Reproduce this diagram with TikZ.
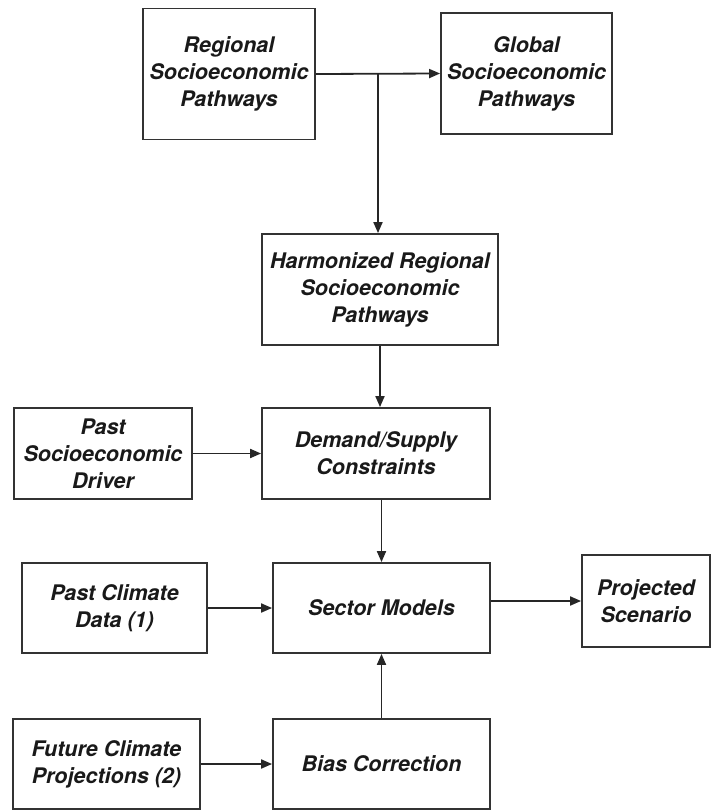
\documentclass[tikz,border=0pt]{standalone}
\usepackage{fontspec}
\setmainfont{TeX Gyre Heros}
\usetikzlibrary{arrows.meta}

\tikzset{
  box/.style={draw=black!80, line width=1.8pt, inner sep=0pt, align=center,
    font=\fontsize{21.5}{27}\selectfont\bfseries\itshape, text=black!90},
  arr/.style={draw=black!85, line width=1.8pt, -{Triangle[length=11pt,width=9pt]}}
}

\begin{document}
\begin{tikzpicture}[x=1pt,y=-1pt]
  \useasboundingbox (0,0) rectangle (719,811);

  % top row
  \node[box, minimum width=172pt, minimum height=131pt] (reg) at (229,74)
    {Regional\\Socioeconomic\\Pathways};
  \node[box, minimum width=171pt, minimum height=121pt] (glob) at (526.5,73.5)
    {Global\\Socioeconomic\\Pathways};

  % harmonised pathways and constraints
  \node[box, minimum width=236pt, minimum height=111pt] (harm) at (380,289.5)
    {Harmonized Regional\\Socioeconomic\\Pathways};
  \node[box, minimum width=178pt, minimum height=91pt] (psd) at (103,453.5)
    {Past\\Socioeconomic\\Driver};
  \node[box, minimum width=228pt, minimum height=91pt] (dem) at (376,453.5)
    {Demand/Supply\\Constraints};

  % models row
  \node[box, minimum width=185pt, minimum height=90pt] (pcd) at (114.5,608)
    {Past Climate\\Data (1)};
  \node[box, minimum width=217pt, minimum height=90pt] (sec) at (381.5,608)
    {Sector Models};
  \node[box, minimum width=128pt, minimum height=92pt] (proj) at (646,601)
    {Projected\\Scenario};

  % climate projections
  \node[box, minimum width=187pt, minimum height=90pt] (fut) at (106.5,764)
    {Future Climate\\Projections (2)};
  \node[box, minimum width=217pt, minimum height=90pt] (bias) at (381.5,764)
    {Bias Correction};

  % connectors
  \coordinate (j) at (378,74);
  \draw[arr] (reg.east) -- (glob.west);
  \draw[arr] (j) -- (j |- harm.north);
  \draw[arr] (harm.south) -- (harm.south |- dem.north);
  \draw[arr] (psd.east) -- (psd.east -| dem.west);
  \draw[arr] (sec.north |- dem.south) -- (sec.north);
  \draw[arr] (pcd.east) -- (pcd.east -| sec.west);
  \draw[arr] (sec.east |- proj.west) -- (proj.west);
  \draw[arr] (fut.east) -- (bias.west);
  \draw[arr] (bias.north) -- (sec.south);
\end{tikzpicture}
\end{document}
